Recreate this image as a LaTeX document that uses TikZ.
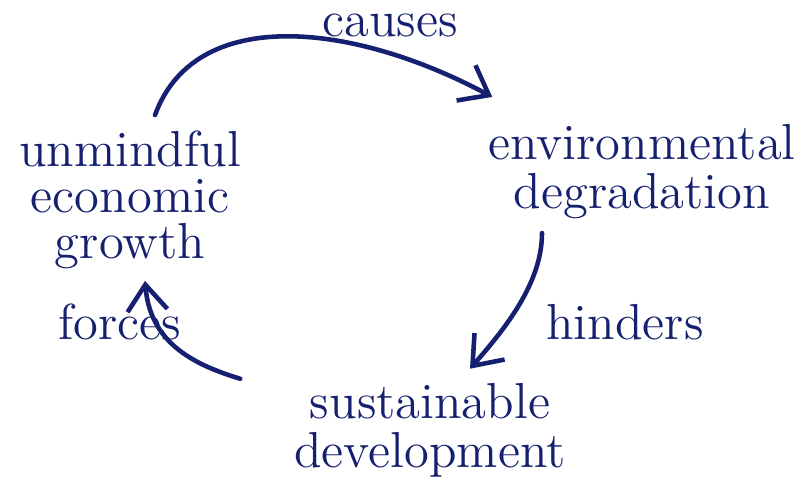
\documentclass[tikz,border=0pt]{standalone}
\usetikzlibrary{arrows.meta}
\definecolor{Ink}{RGB}{ 22, 32, 112 }
\tikzset{
    idea/.style={text=Ink, font=\fontsize{14.4}{#1}\selectfont, align=center, inner sep=1pt},
    idea/.default=13,
    verb/.style={text=Ink, font=\Large, inner sep=1pt},
    link/.style={Ink, line width=1.3pt, line cap=round, -{Straight Barb[length=2.6mm, width=4mm]}}
}

\begin{document}
\begin{tikzpicture}
\useasboundingbox (0,0) rectangle (8.03,4.84);

% the three stages of the cycle
\node[idea=13] (growth) at (1.30,2.84) {unmindful\\economic\\growth};
\node[idea=14] (degrade) at (6.42,3.12) {environmental\\degradation};
\node[idea=14] (sustain) at (4.30,0.54) {sustainable\\development};

% what links them
\node[verb] (causes) at (3.90,4.59) {causes};
\node[verb] (hinders) at (6.25,1.62) {hinders};
\node[verb] (forces) at (1.20,1.62) {forces};

\draw[link] ([xshift=2.5mm,yshift=1.2mm]growth.north)
    .. controls +(0.4,1.1) and +(-1.4,0.75) .. ([xshift=0.8mm,yshift=2.35mm]degrade.north west);
\draw[link] ([xshift=-10mm,yshift=-0.95mm]degrade.south)
    .. controls +(0,-0.5) and +(0.35,0.4) .. ([xshift=4mm,yshift=1mm]sustain.north);
\draw[link] ([xshift=-5mm]sustain.north west)
    .. controls +(-0.5,0.15) and +(0.05,-0.6) .. ([xshift=1.5mm,yshift=-0.8mm]growth.south);

\end{tikzpicture}
\end{document}
